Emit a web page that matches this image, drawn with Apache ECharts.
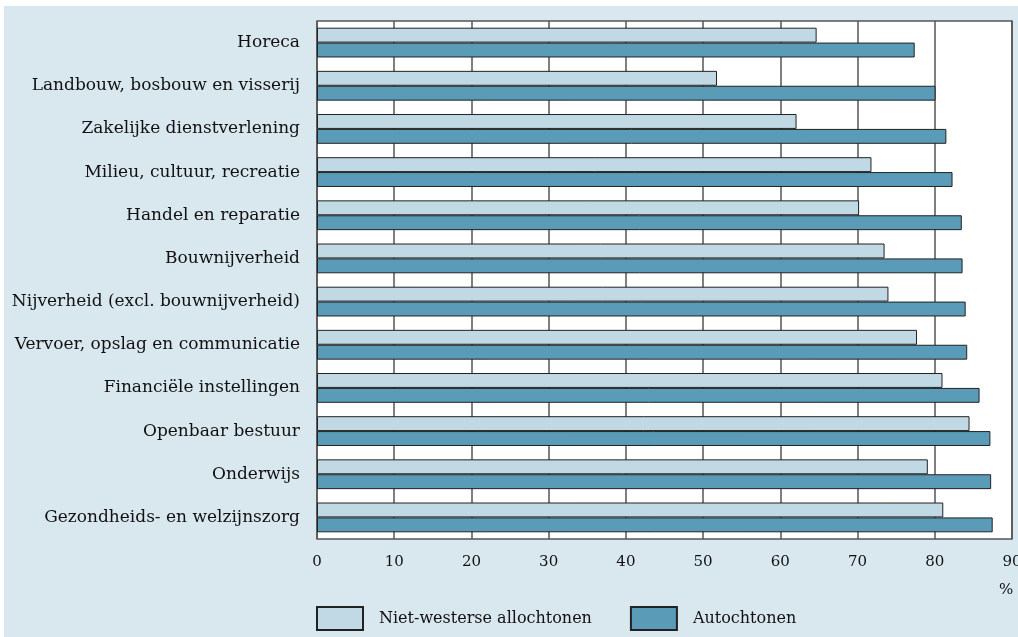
<!DOCTYPE html>
<html>
<head>
<meta charset="utf-8">
<script src="https://cdn.jsdelivr.net/npm/echarts@6/dist/echarts.min.js"></script>
<style>
  html, body { margin: 0; padding: 0; background: #fff; }
  #chart {
    position: absolute;
    left: 4px;
    top: 6px;
    width: 1014px;
    height: 631px;
    background: #d9e7ef;
  }
</style>
</head>
<body>
<div id="chart"></div>
<script>
// sectoren, van boven naar beneden
var sectoren = [
  "Horeca",
  "Landbouw, bosbouw en visserij",
  "Zakelijke dienstverlening",
  "Milieu, cultuur, recreatie",
  "Handel en reparatie",
  "Bouwnijverheid",
  "Nijverheid (excl. bouwnijverheid)",
  "Vervoer, opslag en communicatie",
  "Financiële instellingen",
  "Openbaar bestuur",
  "Onderwijs",
  "Gezondheids- en welzijnszorg"
];
var nietWesters = [64.7, 51.8, 62.1, 71.8, 70.2, 73.5, 74.0, 77.7, 81.0, 84.5, 79.1, 81.1];
var autochtonen = [77.4, 80.1, 81.5, 82.3, 83.5, 83.6, 84.0, 84.2, 85.8, 87.2, 87.3, 87.5];
var xTicks = [0, 10, 20, 30, 40, 50, 60, 70, 80, 90];

var serif = '"DejaVu Serif", "Liberation Serif", serif';

var myChart = echarts.init(document.getElementById("chart"));

var option = {
  backgroundColor: "transparent",
  animation: false,
  textStyle: { fontFamily: serif },
  grid: {
    left: 313,
    top: 15,
    right: 6,
    bottom: 98,
    outerBoundsMode: "none",
    containLabel: false,
    show: true,
    backgroundColor: "#ffffff",
    borderColor: "#555",
    borderWidth: 1.5
  },
  legend: {
    left: 307,
    top: 595,
    itemWidth: 46,
    itemHeight: 23,
    itemGap: 38,
    icon: "rect",
    textStyle: { fontFamily: serif, fontSize: 16, color: "#111", padding: [6, 0, 0, 11] },
    data: ["Niet-westerse allochtonen", "Autochtonen"]
  },
  xAxis: {
    type: "value",
    min: xTicks[0],
    max: xTicks[xTicks.length - 1],
    interval: 10,
    axisLine: { show: false },
    axisTick: { show: false },
    axisLabel: { fontFamily: serif, fontSize: 15, color: "#111", margin: 16 },
    splitLine: { show: true, lineStyle: { color: "#555", width: 1.5 } }
  },
  yAxis: {
    type: "category",
    inverse: true,
    data: sectoren,
    axisLine: { show: false },
    axisTick: { show: false },
    axisLabel: { fontFamily: serif, fontSize: 17, color: "#111", margin: 17 }
  },
  graphic: [
    {
      type: "text",
      left: 995,
      top: 577,
      style: { text: "%", font: "15px " + serif, fill: "#111" }
    }
  ],
  series: [
    {
      name: "Niet-westerse allochtonen",
      type: "bar",
      data: nietWesters,
      barGap: "0%",
      barCategoryGap: "31%",
      itemStyle: { color: "#c1d9e4", borderColor: "#222", borderWidth: 1 }
    },
    {
      name: "Autochtonen",
      type: "bar",
      data: autochtonen,
      barGap: "0%",
      barCategoryGap: "31%",
      itemStyle: { color: "#5a9bb8", borderColor: "#222", borderWidth: 1 }
    }
  ]
};

myChart.setOption(option);
</script>
</body>
</html>
